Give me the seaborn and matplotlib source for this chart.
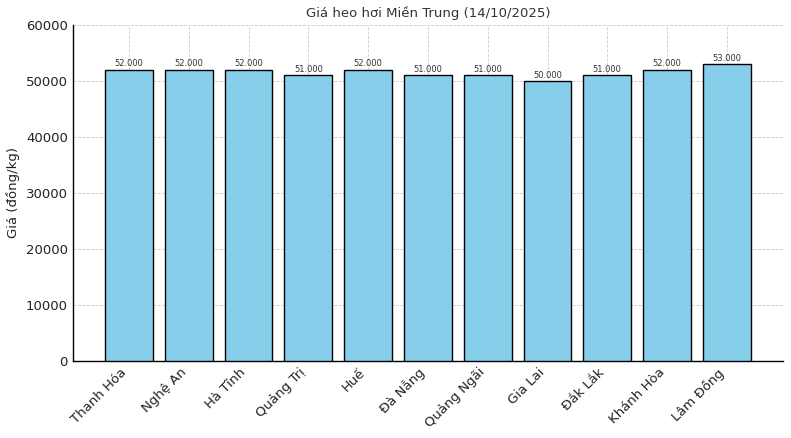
import matplotlib
matplotlib.use("Agg")
import matplotlib.pyplot as plt
import seaborn as sns
import pandas as pd

provinces = ["Thanh Hóa", "Nghệ An", "Hà Tĩnh", "Quảng Trị", "Huế", "Đà Nẵng",
             "Quảng Ngãi", "Gia Lai", "Đắk Lắk", "Khánh Hòa", "Lâm Đồng"]
prices = [52000, 52000, 52000, 51000, 52000, 51000, 51000, 50000, 51000, 52000, 53000]
yticks = [0, 10000, 20000, 30000, 40000, 50000, 60000]

df = pd.DataFrame({"province": provinces, "price": prices})

sns.set_style("white")
plt.rcParams['font.family'] = ['DejaVu Sans']

fig = plt.figure(figsize=(7.91, 4.38), dpi=100)
ax = fig.add_axes([0.092, 0.176, 0.898, 0.767])
sns.barplot(data=df, x="province", y="price", color="skyblue", saturation=1,
            edgecolor="black", linewidth=1, width=0.8, ax=ax, zorder=3)
ax.set_xlim(-0.94, len(provinces) - 1 + 0.94)
ax.set_ylim(0, 60000)
ax.set_yticks(yticks)
ax.set_yticklabels([str(v) for v in yticks])
ax.grid(True, linestyle="--", color="#cccccc", linewidth=0.6, zorder=0)
ax.set_axisbelow(True)
for s in ["top", "right"]:
    ax.spines[s].set_visible(False)
for s in ["left", "bottom"]:
    ax.spines[s].set_color("black")
    ax.spines[s].set_linewidth(1)
ax.tick_params(direction="in", length=3, labelsize=9.5, labelcolor="#222222")
plt.setp(ax.get_xticklabels(), rotation=45, ha="right")
ax.set_xlabel("")
ax.set_ylabel("Giá (đồng/kg)", fontsize=9.5, color="#222222")
ax.set_title("Giá heo hơi Miền Trung (14/10/2025)", fontsize=9.5, color="#333333")
for c in ax.containers:
    ax.bar_label(c, labels=[f"{v:,.0f}".replace(",", ".") for v in prices],
                 fontsize=6, color="#333333", padding=1)
fig.savefig("out.png", dpi=100)
